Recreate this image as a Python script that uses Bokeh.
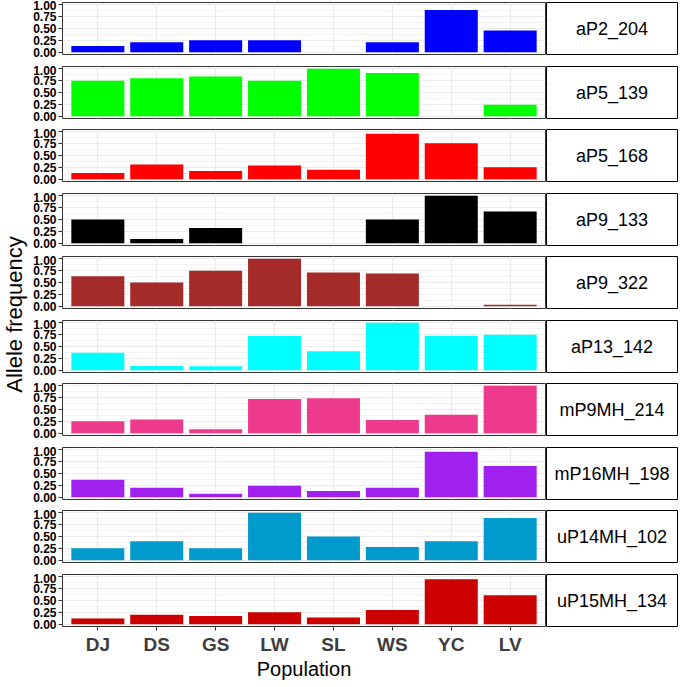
from math import pi
from bokeh.plotting import figure
from bokeh.layouts import row, column
from bokeh.models import FactorRange, Range1d, FixedTicker, PrintfTickFormatter
from bokeh.embed import file_html
from bokeh.resources import INLINE
from bokeh.core.properties import value

# ---------------- data ----------------
populations = ["DJ", "DS", "GS", "LW", "SL", "WS", "YC", "LV"]

markers = ["aP2_204", "aP5_139", "aP5_168", "aP9_133", "aP9_322",
           "aP13_142", "mP9MH_214", "mP16MH_198", "uP14MH_102", "uP15MH_134"]

aP2_204 = [0.13, 0.21, 0.25, 0.25, 0.0, 0.21, 0.89, 0.46]
aP5_139 = [0.75, 0.80, 0.84, 0.75, 1.00, 0.91, 0.0, 0.24]
aP5_168 = [0.13, 0.31, 0.17, 0.29, 0.20, 0.96, 0.76, 0.25]
aP9_133 = [0.50, 0.09, 0.32, 0.0, 0.0, 0.50, 1.00, 0.67]
aP9_322 = [0.63, 0.50, 0.75, 1.00, 0.71, 0.69, 0.0, 0.03]
aP13_142 = [0.37, 0.09, 0.08, 0.72, 0.40, 1.00, 0.73, 0.75]
mP9MH_214 = [0.25, 0.29, 0.08, 0.72, 0.74, 0.28, 0.39, 1.00]
mP16MH_198 = [0.37, 0.20, 0.07, 0.24, 0.13, 0.20, 0.96, 0.66]
uP14MH_102 = [0.25, 0.40, 0.25, 1.00, 0.50, 0.28, 0.40, 0.89]
uP15MH_134 = [0.12, 0.20, 0.17, 0.25, 0.14, 0.30, 0.95, 0.61]

frequencies = [aP2_204, aP5_139, aP5_168, aP9_133, aP9_322,
               aP13_142, mP9MH_214, mP16MH_198, uP14MH_102, uP15MH_134]

colors = ["#0000FF", "#00FF00", "#FF0000", "#000000", "#A52A2A",
          "#00FFFF", "#EE3A8C", "#A020F0", "#009ACD", "#CD0000"]

y_ticks = [0.0, 0.25, 0.5, 0.75, 1.0]
y_minor = [0.125, 0.375, 0.625, 0.875]

x_title = "Population"
y_title = "Allele frequency"

FONT = "Liberation Sans"
GRID = "#EBEBEB"

# ---------------- panels ----------------
n = len(markers)
rows = []
for i, (m, vals, c) in enumerate(zip(markers, frequencies, colors)):
    last = (i == n - 1)
    top_b = 2 if i == 0 else 1
    bot_b = 0 if last else (11 if i % 2 == 0 else 10)
    p = figure(x_range=FactorRange(factors=populations, range_padding=0.025),
               y_range=Range1d(-0.05, 1.05),
               frame_width=483, frame_height=52,
               min_border_left=34, min_border_right=1, min_border_top=top_b,
               min_border_bottom=bot_b,
               output_backend="svg", toolbar_location=None)
    p.vbar(x=populations, top=vals, width=0.9, fill_color=c, line_color=None)

    p.background_fill_color = "white"
    p.border_fill_color = "white"
    p.outline_line_color = "#333333"
    p.outline_line_width = 1

    p.yaxis.ticker = FixedTicker(ticks=y_ticks, minor_ticks=y_minor)
    p.yaxis.formatter = PrintfTickFormatter(format="%.2f")
    p.yaxis.axis_line_color = None
    p.yaxis.major_tick_line_color = "#333333"
    p.yaxis.major_tick_out = 4
    p.yaxis.major_tick_in = 0
    p.yaxis.minor_tick_line_color = None
    p.yaxis.major_label_standoff = 2
    p.yaxis.major_label_text_font = FONT
    p.yaxis.major_label_text_font_size = "12px"
    p.yaxis.major_label_text_font_style = "bold"
    p.yaxis.major_label_text_color = "black"

    p.xgrid.grid_line_color = GRID
    p.xgrid.grid_line_width = 1.2
    p.ygrid.grid_line_color = GRID
    p.ygrid.grid_line_width = 1.2
    p.ygrid.minor_grid_line_color = GRID
    p.ygrid.minor_grid_line_width = 0.6

    if last:
        p.xaxis.axis_line_color = None
        p.xaxis.major_tick_line_color = "#333333"
        p.xaxis.major_tick_out = 4
        p.xaxis.major_tick_in = 0
        p.xaxis.minor_tick_line_color = None
        p.xaxis.major_label_standoff = 3
        p.xaxis.major_label_text_font = FONT
        p.xaxis.major_label_text_font_size = "19px"
        p.xaxis.major_label_text_font_style = "bold"
        p.xaxis.major_label_text_color = "#3D3D3D"
        p.xaxis.axis_label = x_title
        p.xaxis.axis_label_standoff = 0
        p.xaxis.axis_label_text_font = FONT
        p.xaxis.axis_label_text_font_size = "20px"
        p.xaxis.axis_label_text_font_style = "normal"
        p.xaxis.axis_label_text_color = "black"
    else:
        p.xaxis.visible = False

    s = figure(x_range=Range1d(0, 1), y_range=Range1d(0, 1),
               frame_width=131, frame_height=52,
               min_border_left=0, min_border_right=1, min_border_top=top_b,
               min_border_bottom=(10 if last else bot_b),
               x_axis_location=None, y_axis_location=None,
               output_backend="svg", toolbar_location=None)
    s.xgrid.visible = False
    s.ygrid.visible = False
    s.background_fill_color = "white"
    s.border_fill_color = "white"
    s.outline_line_color = "black"
    s.outline_line_width = 1
    s.text(x=[0.5], y=[0.5], text=[m], text_align="center", text_baseline="middle",
           text_font=value(FONT), text_font_size="18px", text_color="black")

    rows.append(row(p, s))

# ---------------- y title ----------------
ylab = figure(x_range=Range1d(0, 1), y_range=Range1d(0, 1),
              frame_width=28, frame_height=628,
              min_border_left=0, min_border_right=0, min_border_top=0, min_border_bottom=0,
              x_axis_location=None, y_axis_location=None,
              output_backend="svg", toolbar_location=None)
ylab.xgrid.visible = False
ylab.ygrid.visible = False
ylab.outline_line_color = None
ylab.background_fill_color = "white"
ylab.border_fill_color = "white"
ylab.text(x=[0.5], y=[0.5], text=[y_title], angle=pi / 2, text_align="center",
          text_baseline="middle", text_font=value(FONT), text_font_size="22px",
          text_color="black")

layout = row(ylab, column(*rows))

open("out.html", "w").write(file_html(layout, INLINE))
